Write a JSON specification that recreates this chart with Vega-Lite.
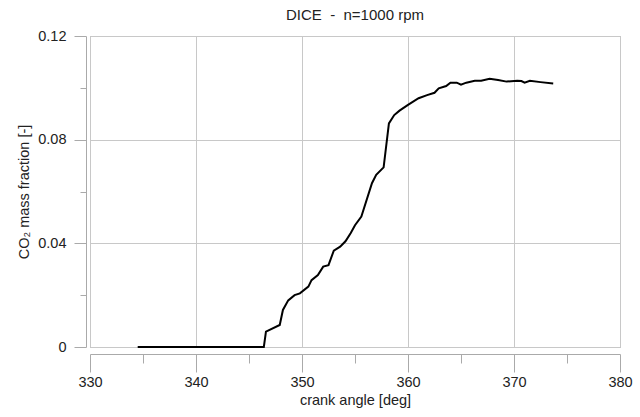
{
  "$schema": "https://vega.github.io/schema/vega-lite/v6.json",
  "autosize": "none",
  "width": 530,
  "height": 311,
  "padding": {"left": 90, "top": 36, "right": 20, "bottom": 70},
  "background": "white",
  "title": {"text": "DICE \u00a0-\u00a0 n=1000 rpm", "anchor": "middle", "font": "Liberation Sans", "fontSize": 15, "fontWeight": "normal", "color": "#222", "offset": 5},
  "config": {
    "view": {"stroke": "#aaa", "strokeWidth": 1},
    "axis": {"labelFont": "Liberation Sans", "titleFont": "Liberation Sans", "labelFontSize": 14.5, "titleFontSize": 14.5, "titleFontWeight": "normal", "labelColor": "#222", "titleColor": "#222", "domainColor": "#aaa", "tickColor": "#aaa", "gridColor": "#c8c8c8"}
  },
  "data": {"values": [
    {"angle": 334.5, "co2": 0},
    {"angle": 346.4, "co2": 0},
    {"angle": 346.6, "co2": 0.0059},
    {"angle": 347.9, "co2": 0.0085},
    {"angle": 348.2, "co2": 0.0143},
    {"angle": 348.7, "co2": 0.018},
    {"angle": 349.3, "co2": 0.020},
    {"angle": 349.8, "co2": 0.0207},
    {"angle": 350.6, "co2": 0.0233},
    {"angle": 350.9, "co2": 0.0258},
    {"angle": 351.5, "co2": 0.0278},
    {"angle": 352.0, "co2": 0.031},
    {"angle": 352.5, "co2": 0.0316},
    {"angle": 353.0, "co2": 0.0372},
    {"angle": 353.6, "co2": 0.0387},
    {"angle": 354.1, "co2": 0.0408},
    {"angle": 354.6, "co2": 0.0440},
    {"angle": 355.0, "co2": 0.047},
    {"angle": 355.6, "co2": 0.0503},
    {"angle": 356.6, "co2": 0.0632},
    {"angle": 357.0, "co2": 0.0664},
    {"angle": 357.7, "co2": 0.0693},
    {"angle": 358.2, "co2": 0.0863},
    {"angle": 358.7, "co2": 0.0895},
    {"angle": 359.2, "co2": 0.0912},
    {"angle": 360.0, "co2": 0.0934},
    {"angle": 361.0, "co2": 0.096},
    {"angle": 361.8, "co2": 0.0972},
    {"angle": 362.5, "co2": 0.0981},
    {"angle": 362.9, "co2": 0.0998},
    {"angle": 363.6, "co2": 0.1007},
    {"angle": 364.0, "co2": 0.102},
    {"angle": 364.6, "co2": 0.102},
    {"angle": 365.0, "co2": 0.1012},
    {"angle": 365.5, "co2": 0.102},
    {"angle": 366.3, "co2": 0.1027},
    {"angle": 366.9, "co2": 0.1027},
    {"angle": 367.7, "co2": 0.1035},
    {"angle": 368.5, "co2": 0.103},
    {"angle": 369.3, "co2": 0.1024},
    {"angle": 370.3, "co2": 0.1027},
    {"angle": 370.7, "co2": 0.1026},
    {"angle": 371.0, "co2": 0.102},
    {"angle": 371.5, "co2": 0.1027},
    {"angle": 372.5, "co2": 0.1022},
    {"angle": 373.7, "co2": 0.1017}
  ]},
  "mark": {"type": "line", "color": "#000", "strokeWidth": 2, "interpolate": "linear"},
  "encoding": {
    "x": {
      "field": "angle", "type": "quantitative",
      "scale": {"domain": [330, 380], "nice": false, "zero": false},
      "axis": {
        "title": "crank angle [deg]",
        "values": [330, 335, 340, 345, 350, 355, 360, 365, 370, 375, 380],
        "labelExpr": "datum.value % 10 === 0 ? datum.label : ''",
        "offset": 7,
        "tickSize": {"condition": {"test": "datum.value % 10 === 0", "value": 18}, "value": 9},
        "gridOpacity": {"condition": {"test": "datum.value % 10 === 0", "value": 1}, "value": 0},
        "labelPadding": 3,
        "titlePadding": 5,
        "labelFlush": false
      }
    },
    "y": {
      "field": "co2", "type": "quantitative",
      "scale": {"domain": [0, 0.12], "nice": false},
      "axis": {
        "title": "CO₂ mass fraction [-]",
        "values": [0, 0.02, 0.04, 0.06, 0.08, 0.1, 0.12],
        "labelExpr": "(round(datum.value * 100) % 4 === 0) ? (datum.value === 0 ? '0' : format(datum.value, '.2f')) : ''",
        "offset": 4,
        "tickSize": {"condition": {"test": "round(datum.value * 100) % 4 === 0", "value": 12}, "value": 6},
        "gridOpacity": {"condition": {"test": "round(datum.value * 100) % 4 === 0", "value": 1}, "value": 0},
        "labelPadding": 8,
        "titlePadding": 6,
        "labelFlush": false
      }
    }
  }
}
